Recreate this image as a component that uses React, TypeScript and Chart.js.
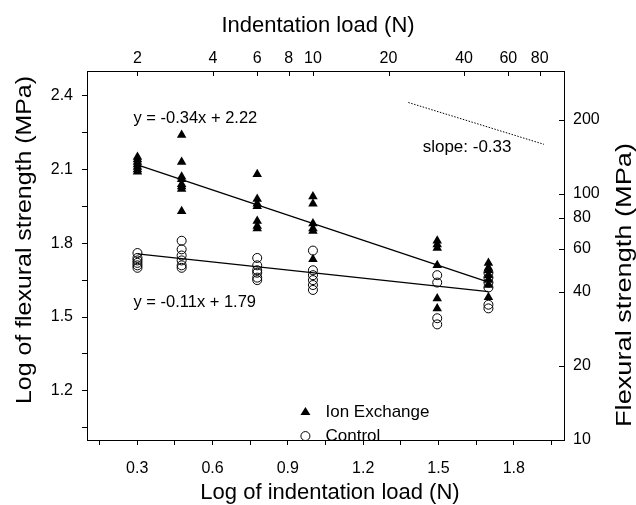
import React, { useEffect, useRef } from 'react';
import { Chart, registerables } from 'chart.js';

Chart.register(...registerables);

// log10 of indentation load (N) for the six load groups: 2, 3, 6, 10, 30, 50 N
const loadLog = [0.301, 0.477, 0.778, 1.0, 1.495, 1.699];

// Log of flexural strength (MPa) per load group
const ionExchange = [
  [2.15, 2.14, 2.13, 2.12, 2.11, 2.1, 2.09],
  [2.24, 2.13, 2.07, 2.06, 2.04, 2.03, 2.02, 1.93],
  [2.08, 1.98, 1.96, 1.95, 1.89, 1.87, 1.86],
  [1.99, 1.96, 1.88, 1.86, 1.85, 1.735],
  [1.81, 1.795, 1.78, 1.71, 1.575, 1.535],
  [1.72, 1.7, 1.69, 1.67, 1.65, 1.63, 1.58],
];
const control = [
  [1.76, 1.74, 1.73, 1.72, 1.71, 1.7],
  [1.81, 1.775, 1.75, 1.73, 1.71, 1.7],
  [1.74, 1.71, 1.69, 1.68, 1.66, 1.65],
  [1.77, 1.69, 1.67, 1.65, 1.63, 1.61],
  [1.67, 1.64, 1.495, 1.47],
  [1.68, 1.66, 1.64, 1.62, 1.55, 1.535],
];

// regression lines (end points as drawn)
const fitX = [0.301, 1.699];
const ionFitY = [2.118, 1.642];
const controlFitY = [1.757, 1.603];
// reference slope guide
const slopeX = [1.38, 1.92];
const slopeY = [2.372, 2.202];

const ionLabel = 'y = -0.34x + 2.22';
const controlLabel = 'y = -0.11x + 1.79';
const slopeLabel = 'slope: -0.33';

const bottomMajor = [0.3, 0.6, 0.9, 1.2, 1.5, 1.8];
const bottomMinor = [0.15, 0.45, 0.75, 1.05, 1.35, 1.65, 1.95];
const leftMajor = [1.2, 1.5, 1.8, 2.1, 2.4];
const leftMinor = [1.05, 1.35, 1.65, 1.95, 2.25];
const topTicks = [2, 4, 6, 8, 10, 20, 40, 60, 80];
const rightTicks = [10, 20, 40, 60, 80, 100, 200];

const FONT = '"Liberation Sans", Arial, Helvetica, sans-serif';

const isMajor = (v: number, list: number[]) => list.some((m) => Math.abs(m - v) < 1e-6);

function verticalText(ctx: any, text: string, cx: number, cy: number, length: number) {
  ctx.save();
  ctx.translate(cx, cy);
  ctx.rotate(-Math.PI / 2);
  const w = ctx.measureText(text).width;
  ctx.scale(length / w, 1);
  ctx.fillText(text, 0, 0);
  ctx.restore();
}

const annotations = {
  id: 'annotations',
  afterDraw(chart: any) {
    const ctx = chart.ctx;
    const { x, y, x2, y2 } = chart.scales;
    const area = chart.chartArea;
    ctx.save();
    ctx.strokeStyle = '#000';
    ctx.lineWidth = 1;
    // inward ticks on top and right axes
    ctx.beginPath();
    topTicks.forEach((v) => {
      const px = Math.round(x2.getPixelForValue(v)) + 0.5;
      ctx.moveTo(px, area.top);
      ctx.lineTo(px, area.top + 5);
    });
    rightTicks.forEach((v) => {
      const py = Math.round(y2.getPixelForValue(v)) + 0.5;
      ctx.moveTo(area.right, py);
      ctx.lineTo(area.right - 5, py);
    });
    ctx.stroke();

    ctx.fillStyle = '#000';
    // axis titles
    ctx.font = `22px ${FONT}`;
    ctx.textAlign = 'center';
    ctx.textBaseline = 'middle';
    ctx.fillText('Log of indentation load (N)', 330, 493);
    ctx.fillText('Indentation load (N)', 318, 26);
    verticalText(ctx, 'Log of flexural strength (MPa)', 25, 240, 328);
    verticalText(ctx, 'Flexural strength (MPa)', 625, 285, 284);

    // equations and slope text
    ctx.font = `16.5px ${FONT}`;
    ctx.textAlign = 'left';
    ctx.fillText(ionLabel, x.getPixelForValue(0.285), y.getPixelForValue(2.306));
    ctx.fillText(controlLabel, x.getPixelForValue(0.285), y.getPixelForValue(1.559));
    ctx.font = `17px ${FONT}`;
    ctx.fillText(slopeLabel, x.getPixelForValue(1.437), y.getPixelForValue(2.188));

    // legend
    const lx = x.getPixelForValue(0.97);
    const ly1 = y.getPixelForValue(1.114);
    const ly2 = y.getPixelForValue(1.016);
    const r = 5;
    ctx.beginPath();
    ctx.moveTo(lx, ly1 - r);
    ctx.lineTo(lx + r, ly1 + r * 0.6);
    ctx.lineTo(lx - r, ly1 + r * 0.6);
    ctx.closePath();
    ctx.fill();
    ctx.beginPath();
    ctx.arc(lx, ly2, 4.5, 0, Math.PI * 2);
    ctx.stroke();
    ctx.font = `17px ${FONT}`;
    ctx.fillText('Ion Exchange', x.getPixelForValue(1.05), ly1);
    ctx.fillText('Control', x.getPixelForValue(1.05), ly2);
    ctx.restore();
  },
};

export default function App() {
  const ref = useRef<HTMLCanvasElement | null>(null);
  useEffect(() => {
    if (!ref.current) return;
    const ionPts: { x: number; y: number }[] = [];
    ionExchange.forEach((g, i) => g.forEach((v) => ionPts.push({ x: loadLog[i], y: v })));
    const ctrlPts: { x: number; y: number }[] = [];
    control.forEach((g, i) => g.forEach((v) => ctrlPts.push({ x: loadLog[i], y: v })));

    const tickFont = { family: FONT, size: 16 };
    const chart = new Chart(ref.current, {
      type: 'scatter',
      data: {
        datasets: [
          {
            label: 'Control',
            data: ctrlPts,
            xAxisID: 'x',
            yAxisID: 'y',
            pointStyle: 'circle',
            pointRadius: 4.5,
            backgroundColor: 'rgba(255,255,255,0)',
            borderColor: '#000',
            borderWidth: 1,
            order: 1,
          },
          {
            label: 'Ion Exchange',
            data: ionPts,
            xAxisID: 'x',
            yAxisID: 'y',
            pointStyle: 'triangle',
            pointRadius: 5.5,
            backgroundColor: '#000',
            borderColor: '#000',
            borderWidth: 0,
            order: 2,
          },
          {
            label: 'ion fit',
            data: fitX.map((v, i) => ({ x: v, y: ionFitY[i] })),
            showLine: true,
            pointRadius: 0,
            borderColor: '#000',
            borderWidth: 1.3,
            order: 3,
          },
          {
            label: 'control fit',
            data: fitX.map((v, i) => ({ x: v, y: controlFitY[i] })),
            showLine: true,
            pointRadius: 0,
            borderColor: '#000',
            borderWidth: 1.3,
            order: 4,
          },
          {
            label: 'slope',
            data: slopeX.map((v, i) => ({ x: v, y: slopeY[i] })),
            showLine: true,
            pointRadius: 0,
            borderColor: '#000',
            borderWidth: 1,
            borderDash: [1.5, 1.5],
            order: 5,
          },
        ],
      },
      options: {
        responsive: false,
        animation: false,
        devicePixelRatio: 1,
        layout: { padding: 0 },
        plugins: { legend: { display: false }, tooltip: { enabled: false } },
        scales: {
          x: {
            type: 'linear',
            position: 'bottom',
            min: 0.1,
            max: 2.0,
            afterBuildTicks: (s: any) => {
              s.ticks = [...bottomMinor, ...bottomMajor].sort((a, b) => a - b).map((v) => ({ value: v }));
            },
            afterFit: (s: any) => {
              s.height = 65;
            },
            ticks: {
              autoSkip: false,
              maxRotation: 0,
              color: '#000',
              font: tickFont,
              padding: 14,
              callback: (v: any) => (isMajor(Number(v), bottomMajor) ? Number(v).toFixed(1) : ''),
            },
            grid: { drawOnChartArea: false, drawTicks: true, tickLength: 5, color: '#000' },
            border: { display: true, color: '#000', width: 1 },
          },
          x2: {
            type: 'logarithmic',
            position: 'top',
            min: Math.pow(10, 0.1),
            max: 100,
            afterBuildTicks: (s: any) => {
              s.ticks = topTicks.map((v) => ({ value: v }));
            },
            afterFit: (s: any) => {
              s.height = 71;
            },
            ticks: {
              autoSkip: false,
              maxRotation: 0,
              color: '#000',
              font: tickFont,
              padding: 3,
              callback: (v: any) => String(v),
            },
            grid: { drawOnChartArea: false, drawTicks: false },
            border: { display: true, color: '#000', width: 1 },
          },
          y: {
            type: 'linear',
            position: 'left',
            min: 1.0,
            max: 2.5,
            afterBuildTicks: (s: any) => {
              s.ticks = [...leftMinor, ...leftMajor].sort((a, b) => a - b).map((v) => ({ value: v }));
            },
            afterFit: (s: any) => {
              s.width = 87;
            },
            ticks: {
              autoSkip: false,
              color: '#000',
              font: tickFont,
              padding: 9,
              callback: (v: any) => (isMajor(Number(v), leftMajor) ? Number(v).toFixed(1) : ''),
            },
            grid: { drawOnChartArea: false, drawTicks: true, tickLength: 5, color: '#000' },
            border: { display: true, color: '#000', width: 1 },
          },
          y2: {
            type: 'logarithmic',
            position: 'right',
            min: 10,
            max: Math.pow(10, 2.5),
            afterBuildTicks: (s: any) => {
              s.ticks = rightTicks.map((v) => ({ value: v }));
            },
            afterFit: (s: any) => {
              s.width = 72;
            },
            ticks: {
              autoSkip: false,
              color: '#000',
              font: tickFont,
              padding: 9,
              callback: (v: any) => String(v),
            },
            grid: { drawOnChartArea: false, drawTicks: false },
            border: { display: true, color: '#000', width: 1 },
          },
        },
      },
      plugins: [annotations],
    } as any);
    return () => chart.destroy();
  }, []);

  return (
    <div style={{ position: 'fixed', left: 0, top: 0, width: 636, height: 505, background: '#fff' }}>
      <canvas ref={ref} width={636} height={505} style={{ display: 'block', width: 636, height: 505 }} />
    </div>
  );
}
